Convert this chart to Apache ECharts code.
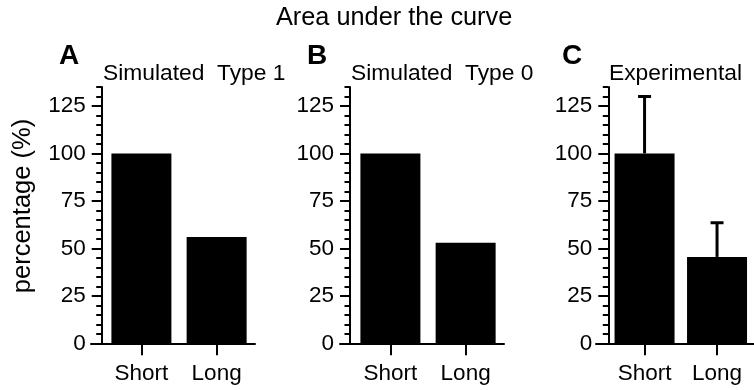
<!DOCTYPE html>
<html>
<head>
<meta charset="utf-8">
<script src="https://cdn.jsdelivr.net/npm/echarts@6/dist/echarts.min.js"></script>
<style>
html,body{margin:0;padding:0;background:#fff;}
#chart{width:754px;height:390px;}
</style>
</head>
<body>
<div id="chart"></div>
<script>
// ---- data ----
const categories = ['Short', 'Long'];
const panelLetters = ['A', 'B', 'C'];
const panelTitles = ['Simulated  Type 1', 'Simulated  Type 0', 'Experimental'];
const simulatedType1 = [100, 56];
const simulatedType0 = [100, 53];
const experimental = [100, 45.5];
const experimentalErr = [30, 18];
const yTickValues = [0, 25, 50, 75, 100, 125];
const mainTitle = 'Area under the curve';
const yAxisName = 'percentage (%)';

// ---- layout (styles / positions only) ----
const FONT = 'Liberation Sans, Arial, Helvetica, sans-serif';
const panels = [
  { left: 91,  axisShift: 10.7, letterX: 59,  titleX: 103, values: simulatedType1 },
  { left: 340, axisShift: 10,   letterX: 307, titleX: 351, values: simulatedType0 },
  { left: 596, axisShift: 12.3, letterX: 562, titleX: 609, values: experimental }
];
const GRID_TOP = 87, GRID_H = 256.3, GRID_W = 164;
const X_MIN = -0.17, X_MAX = 2.01;
const catPos = categories.map((c, i) => i + 0.5);
const black = '#000';

const grids = [], xAxes = [], yAxes = [], series = [], titles = [];

titles.push({ text: mainTitle, left: 276, top: 6, padding: 0,
  textStyle: { fontSize: 25.3, fontWeight: 'normal', color: black, fontFamily: FONT } });

panels.forEach((p, i) => {
  grids.push({ left: p.left, top: GRID_TOP, width: GRID_W, height: GRID_H, containLabel: false });
  xAxes.push({
    type: 'value', gridIndex: i, min: X_MIN, max: X_MAX,
    axisLine: { show: true, onZero: false, lineStyle: { color: black, width: 2 } },
    axisTick: { show: true, customValues: catPos, length: 12, lineStyle: { color: black, width: 2 } },
    axisLabel: { show: true, customValues: catPos, margin: 19, fontSize: 22.5, color: black, fontFamily: FONT,
      formatter: v => categories[Math.round(v - 0.5)] },
    splitLine: { show: false }
  });
  // minor ticks axis
  yAxes.push({
    type: 'value', gridIndex: i, position: 'left', min: 0, max: 135, interval: 5,
    offset: -p.axisShift,
    axisLine: { show: true, onZero: false, lineStyle: { color: black, width: 2 } },
    axisTick: { show: true, length: 5.5, lineStyle: { color: black, width: 2 } },
    axisLabel: { show: false }, splitLine: { show: false }
  });
  // major ticks + labels axis
  yAxes.push({
    type: 'value', gridIndex: i, position: 'left', min: 0, max: 135,
    offset: -p.axisShift,
    axisLine: { show: false, onZero: false },
    axisTick: { show: true, customValues: yTickValues, length: 10, lineStyle: { color: black, width: 2 } },
    axisLabel: { show: true, customValues: yTickValues, margin: 16, fontSize: 22.5, color: black, fontFamily: FONT },
    splitLine: { show: false }
  });
  series.push({
    type: 'bar', xAxisIndex: i, yAxisIndex: 2 * i + 1, barWidth: 60,
    itemStyle: { color: black },
    data: p.values.map((v, k) => [catPos[k], v]),
    z: 1
  });
  titles.push({ text: panelLetters[i], left: p.letterX, top: 42, padding: 0,
    textStyle: { fontSize: 28, fontWeight: 'bold', color: black, fontFamily: FONT } });
  titles.push({ text: panelTitles[i], left: p.titleX, top: 62, padding: 0,
    textStyle: { fontSize: 22.8, fontWeight: 'normal', color: black, fontFamily: FONT } });
});

// error bars (panel C)
series.push({
  type: 'custom', xAxisIndex: 2, yAxisIndex: 5, z: 5,
  data: experimental.map((v, k) => [catPos[k], v, experimentalErr[k]]),
  encode: { x: 0, y: 1 },
  renderItem: function (params, api) {
    const x = api.value(0), m = api.value(1), e = api.value(2);
    const base = api.coord([x, m]);
    const top = api.coord([x, m + e]);
    return {
      type: 'group',
      children: [
        { type: 'line', shape: { x1: base[0], y1: base[1], x2: top[0], y2: top[1] },
          style: { stroke: black, lineWidth: 3 } },
        { type: 'line', shape: { x1: top[0] - 6.5, y1: top[1], x2: top[0] + 6.5, y2: top[1] },
          style: { stroke: black, lineWidth: 3 } }
      ]
    };
  }
});

const chart = echarts.init(document.getElementById('chart'), null, { renderer: 'canvas' });
chart.setOption({
  animation: false,
  backgroundColor: '#fff',
  textStyle: { fontFamily: FONT },
  title: titles,
  grid: grids,
  xAxis: xAxes,
  yAxis: yAxes,
  series: series,
  graphic: [{
    type: 'text', x: 23, y: 206, rotation: Math.PI / 2,
    style: { text: yAxisName, fontSize: 25.5, fill: black, fontFamily: FONT, align: 'center', verticalAlign: 'middle' }
  }]
});
</script>
</body>
</html>
